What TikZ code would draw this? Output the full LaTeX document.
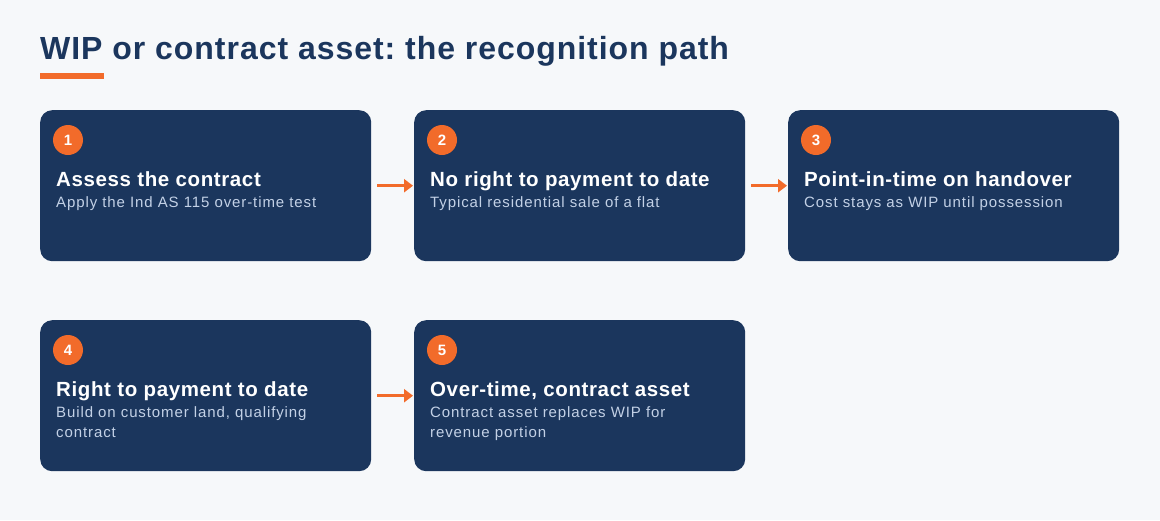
\documentclass[tikz,border=0pt]{standalone}
\usepackage{fontspec}
\setmainfont{Liberation Sans}
\newfontfamily\headfont[LetterSpace=3]{Liberation Sans}
\newfontfamily\cardfont[LetterSpace=3]{Liberation Sans}
\newfontfamily\subfont[LetterSpace=6]{Liberation Sans}
\frenchspacing
\usetikzlibrary{arrows.meta}
\definecolor{bg}{HTML}{F6F8FA}
\definecolor{navy}{HTML}{1B365D}
\definecolor{accent}{HTML}{F26B2A}
\definecolor{subtxt}{HTML}{C3D1E6}
\tikzset{
  card/.style={draw=none, fill=navy, rounded corners=12pt, minimum width=331pt, minimum height=151pt, anchor=north west, inner sep=0pt},
  badge/.style={circle, fill=accent, minimum size=30pt, inner sep=0pt, text=white, font=\fontsize{15}{17}\selectfont\bfseries},
  cardtitle/.style={anchor=base west, inner sep=0pt, text=white, font=\cardfont\fontsize{20.5}{24}\selectfont\bfseries},
  cardsub/.style={anchor=base west, inner sep=0pt, text=subtxt, align=left, font=\subfont\fontsize{15}{20}\selectfont},
  flow/.style={draw=accent, line width=3pt, -{Triangle[length=9pt,width=13pt]}, shorten <=6pt, shorten >=1pt}
}
\begin{document}
\begin{tikzpicture}[x=1pt,y=-1pt]
\fill[bg] (0,0) rectangle (1160,520);
\useasboundingbox (0,0) rectangle (1160,520);
\node[anchor=base west, inner sep=0pt, text=navy, font=\headfont\fontsize{32}{38}\selectfont\bfseries] (title) at (40,59) {WIP or contract asset: the recognition path};
\fill[accent] (40,73) rectangle (104,79);

\node[card] (c1) at (40,110) {};
\node[card] (c2) at (414,110) {};
\node[card] (c3) at (788,110) {};
\node[card] (c4) at (40,320) {};
\node[card] (c5) at (414,320) {};

\node[badge] (b1) at (68,140) {1};
\node[badge] (b2) at (442,140) {2};
\node[badge] (b3) at (816,140) {3};
\node[badge] (b4) at (68,350) {4};
\node[badge] (b5) at (442,350) {5};

\node[cardtitle] (t1) at (56,186) {Assess the contract};
\node[cardsub] (s1) at (56,207) {Apply the Ind AS 115 over-time test};
\node[cardtitle] (t2) at (430,186) {No right to payment to date};
\node[cardsub] (s2) at (430,207) {Typical residential sale of a flat};
\node[cardtitle] (t3) at (804,186) {Point-in-time on handover};
\node[cardsub] (s3) at (804,207) {Cost stays as WIP until possession};
\node[cardtitle] (t4) at (56,396) {Right to payment to date};
\node[cardsub] (s4) at (56,437) {Build on customer land, qualifying\\contract};
\node[cardtitle] (t5) at (430,396) {Over-time, contract asset};
\node[cardsub] (s5) at (430,437) {Contract asset replaces WIP for\\revenue portion};

\draw[flow] (c1.east) -- (c2.west);
\draw[flow] (c2.east) -- (c3.west);
\draw[flow] (c4.east) -- (c5.west);
\end{tikzpicture}
\end{document}
